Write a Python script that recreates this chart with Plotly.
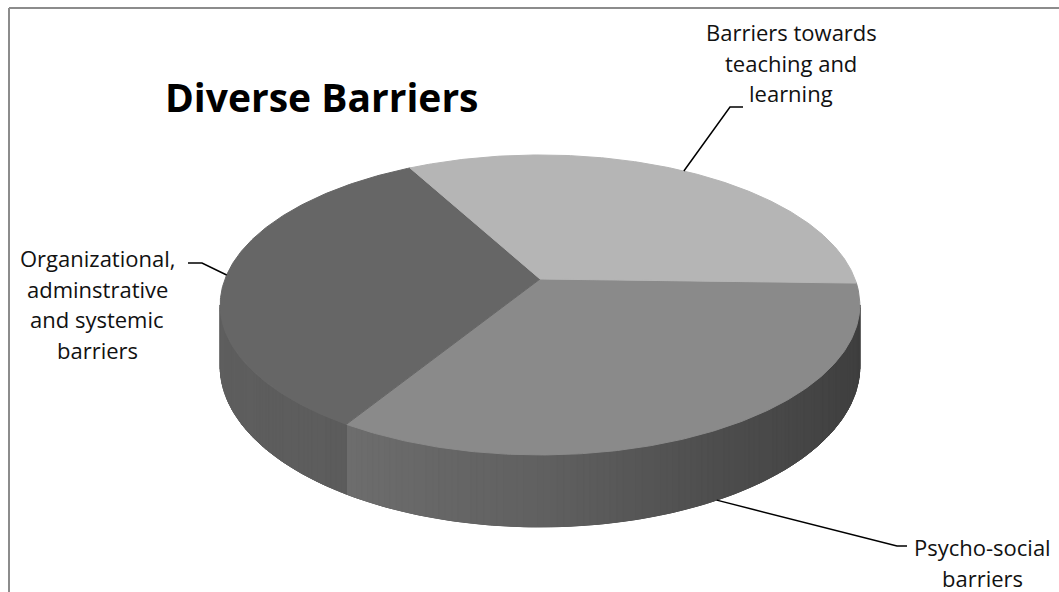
import numpy as np
import plotly.graph_objects as go

# ---- data -------------------------------------------------------------
title_text = "Diverse Barriers"
categories = [
    "Psycho-social barriers",
    "Organizational, adminstrative and systemic barriers",
    "Barriers towards teaching and learning",
]
values = [33.3, 33.3, 33.3]
label_lines = [
    ["Psycho-social", "barriers"],
    ["Organizational,", "adminstrative", "and systemic", "barriers"],
    ["Barriers towards", "teaching and", "learning"],
]

# ---- styling ----------------------------------------------------------
top_colors = ["#8a8a8a", "#666666", "#b5b5b5"]
side_base = [112, 95, 150]          # grey level of each slice's rim
W, H = 1059, 592
CX, CY = 540.0, 279.0               # pie centre on screen
AX, BY = 315.0, 145.5               # projected radii
PERSP = 0.173                       # perspective strength
DEPTH = 59.5                        # thickness of the pie
FIRST_ANGLE = 91.6                  # first slice, degrees clockwise from 12 o'clock
FONT = "Open Sans"
LABEL_SIZE = 22
LINE_STEP = 30.5
label_pos = [(982, 547), (97, 258), (791, 32)]
leader_elbow = [(897, 546, 907), (202, 263, 188), (730, 107, 743)]

# rim lighting profile (angle in degrees -> brightness factor)
light_deg = [190, 240, 270, 300, 330, 350]
light_fac = [1.0, 0.97, 0.86, 0.68, 0.58, 0.55]


def project(t, z=0.0):
    t = np.asarray(t, dtype=float)
    u, v = np.cos(t), np.sin(t)
    w = 1 + PERSP * v
    return CX + AX * u / w, CY - BY * v / w + DEPTH * z / w


def grey(level):
    g = int(max(0, min(255, round(level))))
    return f"rgb({g},{g},{g})"


def polygon(xs, ys, color, name=None):
    return go.Scatter(
        x=xs, y=ys, mode="lines", fill="toself", fillcolor=color,
        line=dict(color=color, width=1),
        name=name, hoverinfo="name" if name else "skip", showlegend=False)


fig = go.Figure()

total = float(sum(values))
t0 = np.radians(90 - FIRST_ANGLE)
vis_lo = np.pi + np.arcsin(PERSP)
vis_hi = 2 * np.pi - np.arcsin(PERSP)

slices = []
cum = 0.0
for v in values:
    start = t0 - 2 * np.pi * cum / total
    end = start - 2 * np.pi * v / total
    slices.append((end, start))
    cum += v

# rim (side walls) of the front half: a solid underlay, then shaded strips
for i, (lo_t, hi_t) in enumerate(slices):
    for k in range(-2, 3):
        lo = max(lo_t, vis_lo + 2 * np.pi * k)
        hi = min(hi_t, vis_hi + 2 * np.pi * k)
        if lo >= hi:
            continue
        ts = np.linspace(lo, hi, 120)
        xt, yt = project(ts, 0)
        xb, yb = project(ts[::-1], 1)
        mid_deg = np.degrees((lo + hi) / 2) % 360
        fig.add_trace(polygon(np.r_[xt, xb, xt[:1]], np.r_[yt, yb, yt[:1]],
                              grey(side_base[i] * np.interp(mid_deg, light_deg, light_fac))))
        n = max(2, int(np.degrees(hi - lo) / 1.0))
        edges = np.linspace(lo, hi, n + 1)
        for a, b in zip(edges[:-1], edges[1:]):
            ts = np.linspace(a, b, 3)
            xt, yt = project(ts, 0)
            xb, yb = project(ts[::-1], 1)
            mid = np.degrees((a + b) / 2) % 360
            col = grey(side_base[i] * np.interp(mid, light_deg, light_fac))
            fig.add_trace(polygon(np.r_[xt, xb, xt[:1]], np.r_[yt, yb, yt[:1]], col))

# top faces
for i, (lo_t, hi_t) in enumerate(slices):
    ts = np.linspace(lo_t, hi_t, 200)
    xs, ys = project(ts, 0)
    fig.add_trace(polygon(np.r_[CX, xs, CX], np.r_[CY, ys, CY],
                          top_colors[i], name=categories[i]))

# leader lines and labels
annotations = []
for i, (lo_t, hi_t) in enumerate(slices):
    mid = (lo_t + hi_t) / 2
    m = mid % (2 * np.pi)
    z = 1.0 if vis_lo <= m <= vis_hi else 0.0
    ax_, ay_ = project(mid, z)
    ex, ey, tx = leader_elbow[i]
    fig.add_trace(go.Scatter(
        x=[float(ax_), ex, tx], y=[float(ay_), ey, ey], mode="lines",
        line=dict(color="#000000", width=1.5),
        hoverinfo="skip", showlegend=False))
    lx, ly = label_pos[i]
    for j, line in enumerate(label_lines[i]):
        annotations.append(dict(
            x=lx, y=ly + j * LINE_STEP, xref="x", yref="y",
            text=line, showarrow=False, xanchor="center", yanchor="middle",
            font=dict(family=FONT, size=LABEL_SIZE, color="#111111")))

annotations.append(dict(
    x=322, y=96, xref="x", yref="y", text=title_text, showarrow=False,
    xanchor="center", yanchor="middle",
    font=dict(family=FONT, size=39, color="#000000", weight="bold")))

fig.update_layout(
    width=W, height=H,
    margin=dict(l=0, r=0, t=0, b=0),
    paper_bgcolor="white", plot_bgcolor="white",
    xaxis=dict(range=[0, W], visible=False, fixedrange=True),
    yaxis=dict(range=[H, 0], visible=False, fixedrange=True),
    annotations=annotations,
    shapes=[
        dict(type="line", xref="x", yref="y", x0=9, y0=8, x1=W, y1=8,
             line=dict(color="#8c8c8c", width=2)),
        dict(type="line", xref="x", yref="y", x0=9, y0=8, x1=9, y1=H,
             line=dict(color="#8c8c8c", width=2)),
    ],
)

fig.write_html("out.html")
